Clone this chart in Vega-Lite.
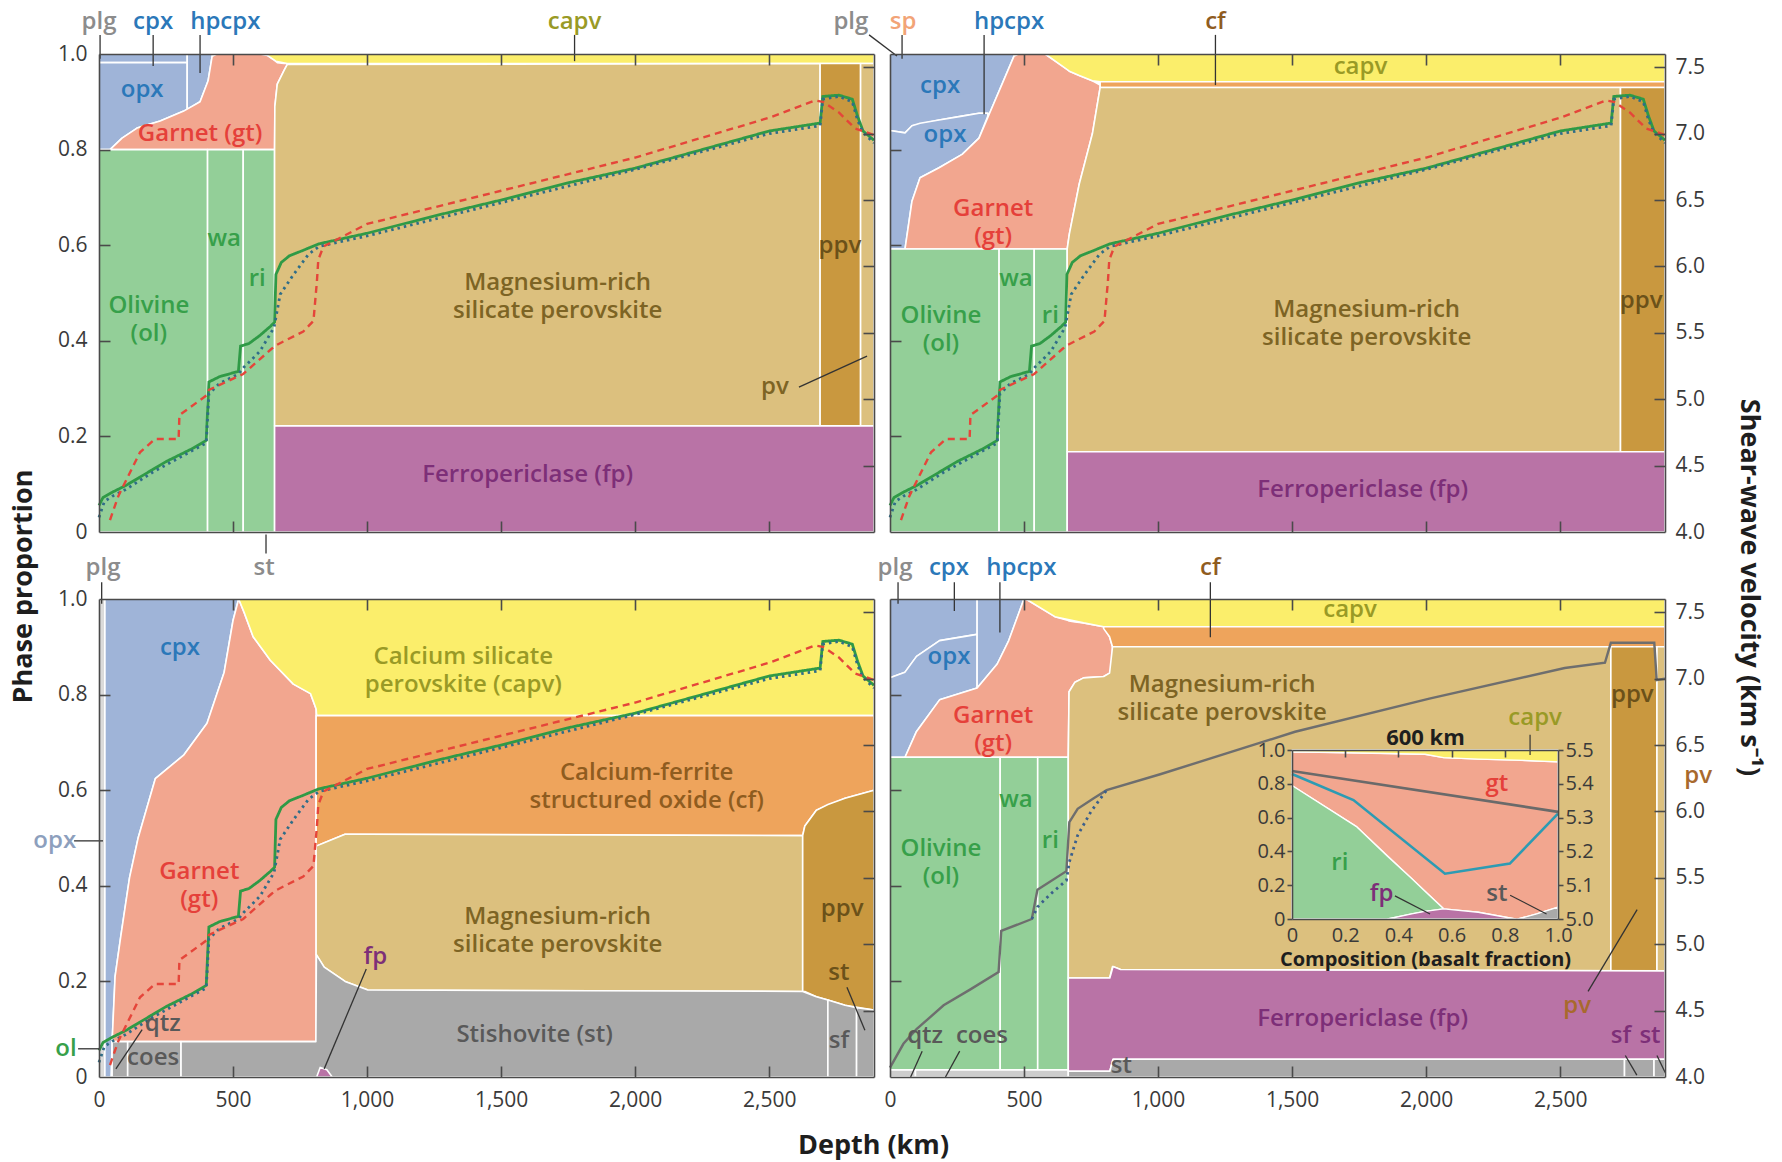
{
  "$schema": "https://vega.github.io/schema/vega-lite/v6.json",
  "background": "white",
  "padding": {"left": 9, "top": 9, "right": 20, "bottom": 5},
  "config": {
    "font": "Open Sans",
    "view": {"stroke": null},
    "axis": {
      "grid": false, "labelFlush": false,
      "domainColor": "#4a4a4a", "domainWidth": 1.6, "tickColor": "#4a4a4a", "tickWidth": 1.6,
      "labelFont": "Open Sans", "labelFontSize": 21, "labelColor": "#3a3a3a",
      "titleFont": "Open Sans", "titleFontSize": 27, "titleFontWeight": "bold", "titleColor": "#1e1e1e"
    }
  },
  "datasets": {
    "ph": [
      {"p":"TL","r":"a1","ph":"px","d":0,"lo":0.982,"hi":1},{"p":"TL","r":"a1","ph":"px","d":329,"lo":0.982,"hi":1},
      {"p":"TL","r":"a2","ph":"px","d":0,"lo":0.8,"hi":0.982},{"p":"TL","r":"a2","ph":"px","d":41,"lo":0.8,"hi":0.982},{"p":"TL","r":"a2","ph":"px","d":86,"lo":0.824,"hi":0.982},{"p":"TL","r":"a2","ph":"px","d":142,"lo":0.845,"hi":0.982},{"p":"TL","r":"a2","ph":"px","d":228,"lo":0.86,"hi":0.982},{"p":"TL","r":"a2","ph":"px","d":314,"lo":0.88,"hi":0.982},{"p":"TL","r":"a2","ph":"px","d":329,"lo":0.884,"hi":0.982},
      {"p":"TL","r":"a3","ph":"px","d":329,"lo":0.884,"hi":1},{"p":"TL","r":"a3","ph":"px","d":377,"lo":0.9,"hi":1},{"p":"TL","r":"a3","ph":"px","d":407,"lo":0.944,"hi":1},{"p":"TL","r":"a3","ph":"px","d":422,"lo":0.995,"hi":1},
      {"p":"TL","r":"a4","ph":"gt","d":41,"lo":0.8,"hi":0.8},{"p":"TL","r":"a4","ph":"gt","d":86,"lo":0.8,"hi":0.824},{"p":"TL","r":"a4","ph":"gt","d":142,"lo":0.8,"hi":0.845},{"p":"TL","r":"a4","ph":"gt","d":228,"lo":0.8,"hi":0.86},{"p":"TL","r":"a4","ph":"gt","d":314,"lo":0.8,"hi":0.88},{"p":"TL","r":"a4","ph":"gt","d":377,"lo":0.8,"hi":0.9},{"p":"TL","r":"a4","ph":"gt","d":407,"lo":0.8,"hi":0.944},{"p":"TL","r":"a4","ph":"gt","d":422,"lo":0.8,"hi":0.995},{"p":"TL","r":"a4","ph":"gt","d":440,"lo":0.8,"hi":1},{"p":"TL","r":"a4","ph":"gt","d":600,"lo":0.8,"hi":1},{"p":"TL","r":"a4","ph":"gt","d":628,"lo":0.8,"hi":0.997},{"p":"TL","r":"a4","ph":"gt","d":646,"lo":0.8,"hi":0.99},{"p":"TL","r":"a4","ph":"gt","d":655,"lo":0.8,"hi":0.987},{"p":"TL","r":"a4","ph":"gt","d":656,"lo":0.89,"hi":0.986},{"p":"TL","r":"a4","ph":"gt","d":665,"lo":0.937,"hi":0.982},{"p":"TL","r":"a4","ph":"gt","d":690,"lo":0.965,"hi":0.98},{"p":"TL","r":"a4","ph":"gt","d":702,"lo":0.978,"hi":0.98},
      {"p":"TL","r":"a5","ph":"capv","d":628,"lo":0.997,"hi":1},{"p":"TL","r":"a5","ph":"capv","d":660,"lo":0.985,"hi":1},{"p":"TL","r":"a5","ph":"capv","d":702,"lo":0.98,"hi":1},{"p":"TL","r":"a5","ph":"capv","d":2891,"lo":0.98,"hi":1},
      {"p":"TL","r":"a6","ph":"ol","d":0,"lo":0,"hi":0.8},{"p":"TL","r":"a6","ph":"ol","d":405,"lo":0,"hi":0.8},
      {"p":"TL","r":"a7","ph":"ol","d":405,"lo":0,"hi":0.8},{"p":"TL","r":"a7","ph":"ol","d":538,"lo":0,"hi":0.8},
      {"p":"TL","r":"a8","ph":"ol","d":538,"lo":0,"hi":0.8},{"p":"TL","r":"a8","ph":"ol","d":655,"lo":0,"hi":0.8},
      {"p":"TL","r":"a9","ph":"pv","d":655,"lo":0.222,"hi":0.8},{"p":"TL","r":"a9","ph":"pv","d":656,"lo":0.222,"hi":0.89},{"p":"TL","r":"a9","ph":"pv","d":665,"lo":0.222,"hi":0.937},{"p":"TL","r":"a9","ph":"pv","d":690,"lo":0.222,"hi":0.965},{"p":"TL","r":"a9","ph":"pv","d":702,"lo":0.222,"hi":0.978},{"p":"TL","r":"a9","ph":"pv","d":2690,"lo":0.222,"hi":0.98},
      {"p":"TL","r":"a10","ph":"ppv","d":2690,"lo":0.222,"hi":0.98},{"p":"TL","r":"a10","ph":"ppv","d":2841,"lo":0.222,"hi":0.98},
      {"p":"TL","r":"a11","ph":"pv","d":2841,"lo":0.222,"hi":0.98},{"p":"TL","r":"a11","ph":"pv","d":2891,"lo":0.222,"hi":0.98},
      {"p":"TL","r":"a12","ph":"fp","d":655,"lo":0,"hi":0.222},{"p":"TL","r":"a12","ph":"fp","d":2891,"lo":0,"hi":0.222},

      {"p":"TR","r":"b1","ph":"px","d":0,"lo":0.84,"hi":1},{"p":"TR","r":"b1","ph":"px","d":56,"lo":0.835,"hi":1},{"p":"TR","r":"b1","ph":"px","d":82,"lo":0.85,"hi":1},{"p":"TR","r":"b1","ph":"px","d":183,"lo":0.862,"hi":1},{"p":"TR","r":"b1","ph":"px","d":269,"lo":0.87,"hi":1},{"p":"TR","r":"b1","ph":"px","d":332,"lo":0.876,"hi":1},{"p":"TR","r":"b1","ph":"px","d":365,"lo":0.876,"hi":1},{"p":"TR","r":"b1","ph":"px","d":370,"lo":0.874,"hi":1},{"p":"TR","r":"b1","ph":"px","d":418,"lo":0.937,"hi":1},{"p":"TR","r":"b1","ph":"px","d":463,"lo":0.996,"hi":1},
      {"p":"TR","r":"b2","ph":"px","d":0,"lo":0.592,"hi":0.84},{"p":"TR","r":"b2","ph":"px","d":56,"lo":0.592,"hi":0.835},{"p":"TR","r":"b2","ph":"px","d":82,"lo":0.692,"hi":0.85},{"p":"TR","r":"b2","ph":"px","d":112,"lo":0.741,"hi":0.855},{"p":"TR","r":"b2","ph":"px","d":183,"lo":0.762,"hi":0.862},{"p":"TR","r":"b2","ph":"px","d":269,"lo":0.79,"hi":0.87},{"p":"TR","r":"b2","ph":"px","d":332,"lo":0.824,"hi":0.876},{"p":"TR","r":"b2","ph":"px","d":365,"lo":0.87,"hi":0.876},
      {"p":"TR","r":"b3","ph":"gt","d":56,"lo":0.592,"hi":0.592},{"p":"TR","r":"b3","ph":"gt","d":82,"lo":0.592,"hi":0.692},{"p":"TR","r":"b3","ph":"gt","d":112,"lo":0.592,"hi":0.741},{"p":"TR","r":"b3","ph":"gt","d":183,"lo":0.592,"hi":0.762},{"p":"TR","r":"b3","ph":"gt","d":269,"lo":0.592,"hi":0.79},{"p":"TR","r":"b3","ph":"gt","d":332,"lo":0.592,"hi":0.824},{"p":"TR","r":"b3","ph":"gt","d":370,"lo":0.592,"hi":0.874},{"p":"TR","r":"b3","ph":"gt","d":418,"lo":0.592,"hi":0.937},{"p":"TR","r":"b3","ph":"gt","d":463,"lo":0.592,"hi":0.996},{"p":"TR","r":"b3","ph":"gt","d":480,"lo":0.592,"hi":1},{"p":"TR","r":"b3","ph":"gt","d":579,"lo":0.592,"hi":1},{"p":"TR","r":"b3","ph":"gt","d":661,"lo":0.592,"hi":0.968},{"p":"TR","r":"b3","ph":"gt","d":669,"lo":0.623,"hi":0.964},{"p":"TR","r":"b3","ph":"gt","d":706,"lo":0.728,"hi":0.955},{"p":"TR","r":"b3","ph":"gt","d":755,"lo":0.833,"hi":0.944},{"p":"TR","r":"b3","ph":"gt","d":784,"lo":0.93,"hi":0.935},
      {"p":"TR","r":"b4","ph":"capv","d":579,"lo":1,"hi":1},{"p":"TR","r":"b4","ph":"capv","d":669,"lo":0.964,"hi":1},{"p":"TR","r":"b4","ph":"capv","d":706,"lo":0.955,"hi":1},{"p":"TR","r":"b4","ph":"capv","d":755,"lo":0.944,"hi":1},{"p":"TR","r":"b4","ph":"capv","d":784,"lo":0.942,"hi":1},{"p":"TR","r":"b4","ph":"capv","d":2891,"lo":0.942,"hi":1},
      {"p":"TR","r":"b5","ph":"cf","d":784,"lo":0.93,"hi":0.942},{"p":"TR","r":"b5","ph":"cf","d":2891,"lo":0.93,"hi":0.942},
      {"p":"TR","r":"b6","ph":"ol","d":0,"lo":0,"hi":0.592},{"p":"TR","r":"b6","ph":"ol","d":407,"lo":0,"hi":0.592},
      {"p":"TR","r":"b7","ph":"ol","d":407,"lo":0,"hi":0.592},{"p":"TR","r":"b7","ph":"ol","d":538,"lo":0,"hi":0.592},
      {"p":"TR","r":"b8","ph":"ol","d":538,"lo":0,"hi":0.592},{"p":"TR","r":"b8","ph":"ol","d":661,"lo":0,"hi":0.592},
      {"p":"TR","r":"b9","ph":"pv","d":661,"lo":0.168,"hi":0.592},{"p":"TR","r":"b9","ph":"pv","d":669,"lo":0.168,"hi":0.623},{"p":"TR","r":"b9","ph":"pv","d":706,"lo":0.168,"hi":0.728},{"p":"TR","r":"b9","ph":"pv","d":755,"lo":0.168,"hi":0.833},{"p":"TR","r":"b9","ph":"pv","d":784,"lo":0.168,"hi":0.93},{"p":"TR","r":"b9","ph":"pv","d":2725,"lo":0.168,"hi":0.93},
      {"p":"TR","r":"b10","ph":"ppv","d":2725,"lo":0.168,"hi":0.93},{"p":"TR","r":"b10","ph":"ppv","d":2891,"lo":0.168,"hi":0.93},
      {"p":"TR","r":"b11","ph":"fp","d":661,"lo":0,"hi":0.168},{"p":"TR","r":"b11","ph":"fp","d":2891,"lo":0,"hi":0.168},

      {"p":"BL","r":"c0","ph":"plg","d":0,"lo":0,"hi":1},{"p":"BL","r":"c0","ph":"plg","d":22,"lo":0,"hi":1},
      {"p":"BL","r":"c1","ph":"px","d":22,"lo":0,"hi":1},{"p":"BL","r":"c1","ph":"px","d":45,"lo":0,"hi":1},{"p":"BL","r":"c1","ph":"px","d":49,"lo":0.074,"hi":1},{"p":"BL","r":"c1","ph":"px","d":60,"lo":0.21,"hi":1},{"p":"BL","r":"c1","ph":"px","d":81,"lo":0.293,"hi":1},{"p":"BL","r":"c1","ph":"px","d":114,"lo":0.417,"hi":1},{"p":"BL","r":"c1","ph":"px","d":146,"lo":0.5,"hi":1},{"p":"BL","r":"c1","ph":"px","d":210,"lo":0.624,"hi":1},{"p":"BL","r":"c1","ph":"px","d":317,"lo":0.674,"hi":1},{"p":"BL","r":"c1","ph":"px","d":403,"lo":0.74,"hi":1},{"p":"BL","r":"c1","ph":"px","d":467,"lo":0.847,"hi":1},{"p":"BL","r":"c1","ph":"px","d":500,"lo":0.955,"hi":1},{"p":"BL","r":"c1","ph":"px","d":521,"lo":1,"hi":1},
      {"p":"BL","r":"c2","ph":"gt","d":49,"lo":0.074,"hi":0.074},{"p":"BL","r":"c2","ph":"gt","d":60,"lo":0.074,"hi":0.21},{"p":"BL","r":"c2","ph":"gt","d":81,"lo":0.074,"hi":0.293},{"p":"BL","r":"c2","ph":"gt","d":114,"lo":0.074,"hi":0.417},{"p":"BL","r":"c2","ph":"gt","d":146,"lo":0.074,"hi":0.5},{"p":"BL","r":"c2","ph":"gt","d":210,"lo":0.074,"hi":0.624},{"p":"BL","r":"c2","ph":"gt","d":317,"lo":0.074,"hi":0.674},{"p":"BL","r":"c2","ph":"gt","d":403,"lo":0.074,"hi":0.74},{"p":"BL","r":"c2","ph":"gt","d":467,"lo":0.074,"hi":0.847},{"p":"BL","r":"c2","ph":"gt","d":500,"lo":0.074,"hi":0.955},{"p":"BL","r":"c2","ph":"gt","d":521,"lo":0.074,"hi":1},{"p":"BL","r":"c2","ph":"gt","d":542,"lo":0.074,"hi":0.971},{"p":"BL","r":"c2","ph":"gt","d":575,"lo":0.074,"hi":0.921},{"p":"BL","r":"c2","ph":"gt","d":639,"lo":0.074,"hi":0.872},{"p":"BL","r":"c2","ph":"gt","d":725,"lo":0.074,"hi":0.822},{"p":"BL","r":"c2","ph":"gt","d":789,"lo":0.074,"hi":0.802},{"p":"BL","r":"c2","ph":"gt","d":810,"lo":0.074,"hi":0.77},
      {"p":"BL","r":"c3","ph":"capv","d":521,"lo":1,"hi":1},{"p":"BL","r":"c3","ph":"capv","d":542,"lo":0.971,"hi":1},{"p":"BL","r":"c3","ph":"capv","d":575,"lo":0.921,"hi":1},{"p":"BL","r":"c3","ph":"capv","d":639,"lo":0.872,"hi":1},{"p":"BL","r":"c3","ph":"capv","d":725,"lo":0.822,"hi":1},{"p":"BL","r":"c3","ph":"capv","d":789,"lo":0.802,"hi":1},{"p":"BL","r":"c3","ph":"capv","d":810,"lo":0.77,"hi":1},{"p":"BL","r":"c3","ph":"capv","d":812,"lo":0.756,"hi":1},{"p":"BL","r":"c3","ph":"capv","d":2891,"lo":0.756,"hi":1},
      {"p":"BL","r":"c4","ph":"cf","d":810,"lo":0.483,"hi":0.756},{"p":"BL","r":"c4","ph":"cf","d":918,"lo":0.508,"hi":0.756},{"p":"BL","r":"c4","ph":"cf","d":2625,"lo":0.505,"hi":0.756},{"p":"BL","r":"c4","ph":"cf","d":2633,"lo":0.525,"hi":0.756},{"p":"BL","r":"c4","ph":"cf","d":2676,"lo":0.558,"hi":0.756},{"p":"BL","r":"c4","ph":"cf","d":2783,"lo":0.583,"hi":0.756},{"p":"BL","r":"c4","ph":"cf","d":2891,"lo":0.6,"hi":0.756},
      {"p":"BL","r":"c5","ph":"pv","d":810,"lo":0.256,"hi":0.483},{"p":"BL","r":"c5","ph":"pv","d":840,"lo":0.23,"hi":0.49},{"p":"BL","r":"c5","ph":"pv","d":918,"lo":0.2,"hi":0.508},{"p":"BL","r":"c5","ph":"pv","d":1003,"lo":0.182,"hi":0.508},{"p":"BL","r":"c5","ph":"pv","d":2625,"lo":0.179,"hi":0.505},
      {"p":"BL","r":"c6","ph":"ppv","d":2625,"lo":0.179,"hi":0.505},{"p":"BL","r":"c6","ph":"ppv","d":2633,"lo":0.179,"hi":0.525},{"p":"BL","r":"c6","ph":"ppv","d":2676,"lo":0.168,"hi":0.558},{"p":"BL","r":"c6","ph":"ppv","d":2719,"lo":0.161,"hi":0.57},{"p":"BL","r":"c6","ph":"ppv","d":2783,"lo":0.15,"hi":0.583},{"p":"BL","r":"c6","ph":"ppv","d":2891,"lo":0.14,"hi":0.6},
      {"p":"BL","r":"c7","ph":"st","d":49,"lo":0,"hi":0.074},{"p":"BL","r":"c7","ph":"st","d":107,"lo":0,"hi":0.074},
      {"p":"BL","r":"c8","ph":"st","d":107,"lo":0,"hi":0.074},{"p":"BL","r":"c8","ph":"st","d":306,"lo":0,"hi":0.074},
      {"p":"BL","r":"c9","ph":"st","d":306,"lo":0,"hi":0.074},{"p":"BL","r":"c9","ph":"st","d":809,"lo":0,"hi":0.074},{"p":"BL","r":"c9","ph":"st","d":811,"lo":0,"hi":0.256},{"p":"BL","r":"c9","ph":"st","d":840,"lo":0,"hi":0.23},{"p":"BL","r":"c9","ph":"st","d":918,"lo":0,"hi":0.2},{"p":"BL","r":"c9","ph":"st","d":1003,"lo":0,"hi":0.182},{"p":"BL","r":"c9","ph":"st","d":2625,"lo":0,"hi":0.179},{"p":"BL","r":"c9","ph":"st","d":2676,"lo":0,"hi":0.168},{"p":"BL","r":"c9","ph":"st","d":2719,"lo":0,"hi":0.161},
      {"p":"BL","r":"c10","ph":"st","d":2719,"lo":0,"hi":0.161},{"p":"BL","r":"c10","ph":"st","d":2783,"lo":0,"hi":0.15},{"p":"BL","r":"c10","ph":"st","d":2826,"lo":0,"hi":0.145},
      {"p":"BL","r":"c11","ph":"st","d":2826,"lo":0,"hi":0.145},{"p":"BL","r":"c11","ph":"st","d":2891,"lo":0,"hi":0.14},
      {"p":"BL","r":"c12","ph":"fp","d":812,"lo":0,"hi":0},{"p":"BL","r":"c12","ph":"fp","d":825,"lo":0,"hi":0.02},{"p":"BL","r":"c12","ph":"fp","d":850,"lo":0,"hi":0.015},{"p":"BL","r":"c12","ph":"fp","d":870,"lo":0,"hi":0},

      {"p":"BR","r":"d1","ph":"px","d":0,"lo":0.835,"hi":1},{"p":"BR","r":"d1","ph":"px","d":56,"lo":0.847,"hi":1},{"p":"BR","r":"d1","ph":"px","d":99,"lo":0.88,"hi":1},{"p":"BR","r":"d1","ph":"px","d":185,"lo":0.913,"hi":1},{"p":"BR","r":"d1","ph":"px","d":325,"lo":0.926,"hi":1},
      {"p":"BR","r":"d2","ph":"px","d":0,"lo":0.669,"hi":0.835},{"p":"BR","r":"d2","ph":"px","d":56,"lo":0.669,"hi":0.847},{"p":"BR","r":"d2","ph":"px","d":99,"lo":0.723,"hi":0.88},{"p":"BR","r":"d2","ph":"px","d":185,"lo":0.789,"hi":0.913},{"p":"BR","r":"d2","ph":"px","d":325,"lo":0.814,"hi":0.926},
      {"p":"BR","r":"d3","ph":"px","d":325,"lo":0.814,"hi":1},{"p":"BR","r":"d3","ph":"px","d":400,"lo":0.864,"hi":1},{"p":"BR","r":"d3","ph":"px","d":443,"lo":0.913,"hi":1},{"p":"BR","r":"d3","ph":"px","d":497,"lo":0.996,"hi":1},
      {"p":"BR","r":"d4","ph":"gt","d":56,"lo":0.669,"hi":0.669},{"p":"BR","r":"d4","ph":"gt","d":99,"lo":0.669,"hi":0.723},{"p":"BR","r":"d4","ph":"gt","d":185,"lo":0.669,"hi":0.789},{"p":"BR","r":"d4","ph":"gt","d":325,"lo":0.669,"hi":0.814},{"p":"BR","r":"d4","ph":"gt","d":400,"lo":0.669,"hi":0.864},{"p":"BR","r":"d4","ph":"gt","d":443,"lo":0.669,"hi":0.913},{"p":"BR","r":"d4","ph":"gt","d":497,"lo":0.669,"hi":0.996},{"p":"BR","r":"d4","ph":"gt","d":507,"lo":0.669,"hi":1},{"p":"BR","r":"d4","ph":"gt","d":615,"lo":0.669,"hi":0.963},{"p":"BR","r":"d4","ph":"gt","d":665,"lo":0.669,"hi":0.955},{"p":"BR","r":"d4","ph":"gt","d":668,"lo":0.806,"hi":0.954},{"p":"BR","r":"d4","ph":"gt","d":690,"lo":0.826,"hi":0.952},{"p":"BR","r":"d4","ph":"gt","d":722,"lo":0.835,"hi":0.95},{"p":"BR","r":"d4","ph":"gt","d":797,"lo":0.838,"hi":0.942},{"p":"BR","r":"d4","ph":"gt","d":819,"lo":0.845,"hi":0.921},{"p":"BR","r":"d4","ph":"gt","d":830,"lo":0.85,"hi":0.9},
      {"p":"BR","r":"d5","ph":"capv","d":507,"lo":1,"hi":1},{"p":"BR","r":"d5","ph":"capv","d":615,"lo":0.963,"hi":1},{"p":"BR","r":"d5","ph":"capv","d":722,"lo":0.95,"hi":1},{"p":"BR","r":"d5","ph":"capv","d":797,"lo":0.942,"hi":1},{"p":"BR","r":"d5","ph":"capv","d":2891,"lo":0.942,"hi":1},
      {"p":"BR","r":"d6","ph":"cf","d":797,"lo":0.938,"hi":0.942},{"p":"BR","r":"d6","ph":"cf","d":819,"lo":0.921,"hi":0.942},{"p":"BR","r":"d6","ph":"cf","d":830,"lo":0.9,"hi":0.942},{"p":"BR","r":"d6","ph":"cf","d":2891,"lo":0.9,"hi":0.942},
      {"p":"BR","r":"d7","ph":"ol","d":0,"lo":0.015,"hi":0.669},{"p":"BR","r":"d7","ph":"ol","d":411,"lo":0.015,"hi":0.669},
      {"p":"BR","r":"d8","ph":"ol","d":411,"lo":0.015,"hi":0.669},{"p":"BR","r":"d8","ph":"ol","d":551,"lo":0.015,"hi":0.669},
      {"p":"BR","r":"d9","ph":"ol","d":551,"lo":0.015,"hi":0.669},{"p":"BR","r":"d9","ph":"ol","d":665,"lo":0.015,"hi":0.669},
      {"p":"BR","r":"d10","ph":"qc","d":0,"lo":0,"hi":0.015},{"p":"BR","r":"d10","ph":"qc","d":95,"lo":0,"hi":0.015},
      {"p":"BR","r":"d11","ph":"qc","d":95,"lo":0,"hi":0.015},{"p":"BR","r":"d11","ph":"qc","d":665,"lo":0,"hi":0.015},
      {"p":"BR","r":"d12","ph":"pv","d":665,"lo":0.207,"hi":0.669},{"p":"BR","r":"d12","ph":"pv","d":668,"lo":0.207,"hi":0.806},{"p":"BR","r":"d12","ph":"pv","d":690,"lo":0.207,"hi":0.826},{"p":"BR","r":"d12","ph":"pv","d":722,"lo":0.207,"hi":0.835},{"p":"BR","r":"d12","ph":"pv","d":797,"lo":0.207,"hi":0.838},{"p":"BR","r":"d12","ph":"pv","d":819,"lo":0.207,"hi":0.845},{"p":"BR","r":"d12","ph":"pv","d":830,"lo":0.231,"hi":0.9},{"p":"BR","r":"d12","ph":"pv","d":860,"lo":0.225,"hi":0.9},{"p":"BR","r":"d12","ph":"pv","d":2689,"lo":0.222,"hi":0.9},
      {"p":"BR","r":"d13","ph":"ppv","d":2689,"lo":0.222,"hi":0.9},{"p":"BR","r":"d13","ph":"ppv","d":2861,"lo":0.222,"hi":0.9},
      {"p":"BR","r":"d14","ph":"pv","d":2861,"lo":0.222,"hi":0.9},{"p":"BR","r":"d14","ph":"pv","d":2891,"lo":0.222,"hi":0.9},
      {"p":"BR","r":"d15","ph":"fp","d":665,"lo":0.012,"hi":0.207},{"p":"BR","r":"d15","ph":"fp","d":820,"lo":0.012,"hi":0.207},{"p":"BR","r":"d15","ph":"fp","d":832,"lo":0.037,"hi":0.231},{"p":"BR","r":"d15","ph":"fp","d":860,"lo":0.037,"hi":0.225},{"p":"BR","r":"d15","ph":"fp","d":2891,"lo":0.037,"hi":0.222},
      {"p":"BR","r":"d16","ph":"st","d":665,"lo":0,"hi":0.012},{"p":"BR","r":"d16","ph":"st","d":820,"lo":0,"hi":0.012},{"p":"BR","r":"d16","ph":"st","d":832,"lo":0,"hi":0.037},{"p":"BR","r":"d16","ph":"st","d":2740,"lo":0,"hi":0.037},
      {"p":"BR","r":"d17","ph":"st","d":2740,"lo":0,"hi":0.037},{"p":"BR","r":"d17","ph":"st","d":2850,"lo":0,"hi":0.037},
      {"p":"BR","r":"d18","ph":"st","d":2850,"lo":0,"hi":0.037},{"p":"BR","r":"d18","ph":"st","d":2891,"lo":0,"hi":0.037}
    ],
    "vs": [
      {"s":"a","d":0,"v":4.2},{"s":"a","d":15,"v":4.26},{"s":"a","d":50,"v":4.3},{"s":"a","d":100,"v":4.35},{"s":"a","d":150,"v":4.41},{"s":"a","d":200,"v":4.47},{"s":"a","d":250,"v":4.53},{"s":"a","d":300,"v":4.58},{"s":"a","d":350,"v":4.63},{"s":"a","d":400,"v":4.69},{"s":"a","d":410,"v":5.13},{"s":"a","d":450,"v":5.17},{"s":"a","d":520,"v":5.21},{"s":"a","d":528,"v":5.4},{"s":"a","d":560,"v":5.42},{"s":"a","d":600,"v":5.48},{"s":"a","d":640,"v":5.55},{"s":"a","d":655,"v":5.58},{"s":"a","d":660,"v":5.94},{"s":"a","d":680,"v":6.03},{"s":"a","d":710,"v":6.08},{"s":"a","d":760,"v":6.12},{"s":"a","d":820,"v":6.17},{"s":"a","d":1000,"v":6.25},{"s":"a","d":1250,"v":6.38},{"s":"a","d":1500,"v":6.5},{"s":"a","d":1750,"v":6.63},{"s":"a","d":2000,"v":6.74},{"s":"a","d":2250,"v":6.88},{"s":"a","d":2500,"v":7.02},{"s":"a","d":2690,"v":7.08},{"s":"a","d":2700,"v":7.28},{"s":"a","d":2760,"v":7.29},{"s":"a","d":2810,"v":7.26},{"s":"a","d":2830,"v":7.13},{"s":"a","d":2850,"v":7.02},{"s":"a","d":2891,"v":6.95},
      {"s":"b","d":0,"v":4.11},{"s":"b","d":20,"v":4.23},{"s":"b","d":50,"v":4.27},{"s":"b","d":100,"v":4.32},{"s":"b","d":200,"v":4.45},{"s":"b","d":300,"v":4.56},{"s":"b","d":400,"v":4.67},{"s":"b","d":410,"v":5.04},{"s":"b","d":450,"v":5.12},{"s":"b","d":520,"v":5.19},{"s":"b","d":540,"v":5.24},{"s":"b","d":600,"v":5.36},{"s":"b","d":653,"v":5.54},{"s":"b","d":676,"v":5.79},{"s":"b","d":726,"v":5.94},{"s":"b","d":781,"v":6.09},{"s":"b","d":820,"v":6.15},{"s":"b","d":1000,"v":6.23},{"s":"b","d":1500,"v":6.48},{"s":"b","d":2000,"v":6.73},{"s":"b","d":2500,"v":7.0},{"s":"b","d":2690,"v":7.06},{"s":"b","d":2700,"v":7.26},{"s":"b","d":2760,"v":7.28},{"s":"b","d":2810,"v":7.24},{"s":"b","d":2830,"v":7.1},{"s":"b","d":2850,"v":7.01},{"s":"b","d":2891,"v":6.93},
      {"s":"c","d":41,"v":4.09},{"s":"c","d":72,"v":4.27},{"s":"c","d":153,"v":4.6},{"s":"c","d":209,"v":4.7},{"s":"c","d":297,"v":4.7},{"s":"c","d":300,"v":4.88},{"s":"c","d":402,"v":5.03},{"s":"c","d":410,"v":5.07},{"s":"c","d":538,"v":5.19},{"s":"c","d":644,"v":5.38},{"s":"c","d":664,"v":5.41},{"s":"c","d":762,"v":5.51},{"s":"c","d":800,"v":5.59},{"s":"c","d":813,"v":5.89},{"s":"c","d":818,"v":6.05},{"s":"c","d":837,"v":6.15},{"s":"c","d":1000,"v":6.32},{"s":"c","d":1500,"v":6.57},{"s":"c","d":2000,"v":6.82},{"s":"c","d":2500,"v":7.12},{"s":"c","d":2670,"v":7.25},{"s":"c","d":2700,"v":7.24},{"s":"c","d":2760,"v":7.16},{"s":"c","d":2820,"v":7.04},{"s":"c","d":2891,"v":6.99}
    ],
    "vsm": [
      {"s":"g","d":0,"v":4.07},{"s":"g","d":50,"v":4.25},{"s":"g","d":99,"v":4.36},{"s":"g","d":200,"v":4.54},{"s":"g","d":300,"v":4.66},{"s":"g","d":405,"v":4.79},{"s":"g","d":415,"v":5.1},{"s":"g","d":529,"v":5.19},{"s":"g","d":550,"v":5.41},{"s":"g","d":658,"v":5.55},{"s":"g","d":669,"v":5.92},{"s":"g","d":700,"v":6.02},{"s":"g","d":760,"v":6.1},{"s":"g","d":808,"v":6.16},{"s":"g","d":1008,"v":6.28},{"s":"g","d":1511,"v":6.6},{"s":"g","d":2012,"v":6.85},{"s":"g","d":2517,"v":7.08},{"s":"g","d":2667,"v":7.12},{"s":"g","d":2689,"v":7.27},{"s":"g","d":2851,"v":7.27},{"s":"g","d":2860,"v":6.99},{"s":"g","d":2891,"v":7.0},
      {"s":"h","d":529,"v":5.19},{"s":"h","d":550,"v":5.28},{"s":"h","d":600,"v":5.38},{"s":"h","d":658,"v":5.48},{"s":"h","d":669,"v":5.62},{"s":"h","d":700,"v":5.82},{"s":"h","d":750,"v":6.0},{"s":"h","d":808,"v":6.16}
    ],
    "lab": [
      {"p":"TL","t":"plg","d":0,"y":1.067,"k":"gy"},{"p":"TL","t":"cpx","d":202,"y":1.067,"k":"bl"},{"p":"TL","t":"hpcpx","d":471,"y":1.067,"k":"bl"},{"p":"TL","t":"capv","d":1774,"y":1.067,"k":"ol"},
      {"p":"TL","t":"opx","d":161,"y":0.925,"k":"bl"},{"p":"TL","t":"Garnet (gt)","d":377,"y":0.833,"k":"rd"},{"p":"TL","t":"wa","d":467,"y":0.613,"k":"gr"},{"p":"TL","t":"Olivine\n(ol)","d":186,"y":0.473,"k":"gr"},{"p":"TL","t":"ri","d":590,"y":0.529,"k":"gr"},
      {"p":"TL","t":"Magnesium-rich\nsilicate perovskite","d":1711,"y":0.521,"k":"br"},{"p":"TL","t":"ppv","d":2764,"y":0.598,"k":"pb"},{"p":"TL","t":"pv","d":2521,"y":0.303,"k":"br"},{"p":"TL","t":"Ferropericlase (fp)","d":1599,"y":0.119,"k":"pu"},{"p":"TL","t":"st","d":616,"y":-0.075,"k":"gy"},
      {"p":"TR","t":"plg","d":-146,"y":1.067,"k":"gy"},{"p":"TR","t":"sp","d":49,"y":1.067,"k":"sp"},{"p":"TR","t":"hpcpx","d":444,"y":1.067,"k":"bl"},{"p":"TR","t":"cf","d":1214,"y":1.067,"k":"cf"},{"p":"TR","t":"capv","d":1755,"y":0.973,"k":"ol"},
      {"p":"TR","t":"cpx","d":187,"y":0.933,"k":"bl"},{"p":"TR","t":"opx","d":205,"y":0.83,"k":"bl"},{"p":"TR","t":"Garnet\n(gt)","d":385,"y":0.676,"k":"rd"},{"p":"TR","t":"wa","d":470,"y":0.529,"k":"gr"},{"p":"TR","t":"Olivine\n(ol)","d":190,"y":0.452,"k":"gr"},{"p":"TR","t":"ri","d":598,"y":0.452,"k":"gr"},
      {"p":"TR","t":"Magnesium-rich\nsilicate perovskite","d":1778,"y":0.464,"k":"br"},{"p":"TR","t":"ppv","d":2802,"y":0.483,"k":"pb"},{"p":"TR","t":"Ferropericlase (fp)","d":1763,"y":0.088,"k":"pu"},
      {"p":"BL","t":"plg","d":15,"y":1.064,"k":"gy"},{"p":"BL","t":"cpx","d":302,"y":0.897,"k":"bl"},{"p":"BL","t":"Calcium silicate\nperovskite (capv)","d":1359,"y":0.879,"k":"ol"},{"p":"BL","t":"Calcium-ferrite\nstructured oxide (cf)","d":2043,"y":0.636,"k":"cf"},
      {"p":"BL","t":"Garnet\n(gt)","d":374,"y":0.429,"k":"rd"},{"p":"BL","t":"Magnesium-rich\nsilicate perovskite","d":1711,"y":0.335,"k":"br"},{"p":"BL","t":"ppv","d":2772,"y":0.351,"k":"pb"},{"p":"BL","t":"fp","d":1031,"y":0.251,"k":"pu"},
      {"p":"BL","t":"st","d":2760,"y":0.218,"k":"pb"},{"p":"BL","t":"Stishovite (st)","d":1625,"y":0.088,"k":"st"},{"p":"BL","t":"sf","d":2760,"y":0.075,"k":"st"},{"p":"BL","t":"qtz","d":238,"y":0.111,"k":"st"},{"p":"BL","t":"coes","d":202,"y":0.04,"k":"st"},
      {"p":"BL","t":"ol","d":-123,"y":0.059,"k":"gr"},{"p":"BL","t":"opx","d":-165,"y":0.494,"k":"bl2"},
      {"p":"BR","t":"plg","d":19,"y":1.064,"k":"gy"},{"p":"BR","t":"cpx","d":220,"y":1.064,"k":"bl"},{"p":"BR","t":"hpcpx","d":490,"y":1.064,"k":"bl"},{"p":"BR","t":"cf","d":1195,"y":1.064,"k":"cf"},{"p":"BR","t":"capv","d":1716,"y":0.978,"k":"ol"},
      {"p":"BR","t":"opx","d":220,"y":0.879,"k":"bl"},{"p":"BR","t":"Garnet\n(gt)","d":385,"y":0.755,"k":"rd"},{"p":"BR","t":"Magnesium-rich\nsilicate perovskite","d":1239,"y":0.821,"k":"br"},{"p":"BR","t":"wa","d":470,"y":0.579,"k":"gr"},{"p":"BR","t":"Olivine\n(ol)","d":190,"y":0.477,"k":"gr"},{"p":"BR","t":"ri","d":598,"y":0.494,"k":"gr"},
      {"p":"BR","t":"ppv","d":2769,"y":0.8,"k":"pb"},{"p":"BR","t":"pv","d":3015,"y":0.63,"k":"pvo"},{"p":"BR","t":"pv","d":2563,"y":0.149,"k":"pvo"},{"p":"BR","t":"Ferropericlase (fp)","d":1763,"y":0.121,"k":"pu"},
      {"p":"BR","t":"st","d":863,"y":0.023,"k":"st"},{"p":"BR","t":"qtz","d":131,"y":0.086,"k":"st"},{"p":"BR","t":"coes","d":343,"y":0.086,"k":"st"},{"p":"BR","t":"sf","d":2727,"y":0.086,"k":"pu"},{"p":"BR","t":"st","d":2835,"y":0.086,"k":"pu"}
    ],
    "lead": [
      {"p":"TL","d1":4,"y1":1.04,"d2":4,"y2":0.99},{"p":"TL","d1":202,"y1":1.04,"d2":202,"y2":0.975},{"p":"TL","d1":377,"y1":1.04,"d2":377,"y2":0.96},{"p":"TL","d1":1774,"y1":1.04,"d2":1774,"y2":0.985},{"p":"TL","d1":2611,"y1":0.303,"d2":2865,"y2":0.368},{"p":"TL","d1":623,"y1":-0.005,"d2":623,"y2":-0.045},
      {"p":"TR","d1":-78,"y1":1.04,"d2":26,"y2":0.996},{"p":"TR","d1":45,"y1":1.04,"d2":45,"y2":0.99},{"p":"TR","d1":351,"y1":1.04,"d2":351,"y2":0.874},{"p":"TR","d1":1214,"y1":1.04,"d2":1214,"y2":0.935},
      {"p":"BL","d1":10,"y1":1.035,"d2":10,"y2":0.99},{"p":"BL","d1":997,"y1":0.226,"d2":840,"y2":0.017},{"p":"BL","d1":2790,"y1":0.188,"d2":2857,"y2":0.098},{"p":"BL","d1":161,"y1":0.099,"d2":63,"y2":0.017},{"p":"BL","d1":-78,"y1":0.059,"d2":0,"y2":0.059},{"p":"BL","d1":-93,"y1":0.494,"d2":15,"y2":0.494},
      {"p":"BR","d1":30,"y1":1.035,"d2":30,"y2":0.99},{"p":"BR","d1":240,"y1":1.035,"d2":240,"y2":0.975},{"p":"BR","d1":410,"y1":1.035,"d2":410,"y2":0.93},{"p":"BR","d1":1195,"y1":1.035,"d2":1195,"y2":0.92},{"p":"BR","d1":2604,"y1":0.179,"d2":2787,"y2":0.35},
      {"p":"BR","d1":120,"y1":0.054,"d2":77,"y2":0},{"p":"BR","d1":260,"y1":0.054,"d2":207,"y2":0},{"p":"BR","d1":2743,"y1":0.045,"d2":2786,"y2":0.004},{"p":"BR","d1":2861,"y1":0.045,"d2":2893,"y2":0.008}
    ],
    "ins": [
      {"r":"e1","ph":"gt","c":0,"lo":0.79,"hi":0.99},{"r":"e1","ph":"gt","c":0.244,"lo":0.545,"hi":0.983},{"r":"e1","ph":"gt","c":0.5,"lo":0.164,"hi":0.975},{"r":"e1","ph":"gt","c":0.57,"lo":0.06,"hi":0.955},{"r":"e1","ph":"gt","c":0.7,"lo":0.04,"hi":0.946},{"r":"e1","ph":"gt","c":0.84,"lo":0,"hi":0.94},{"r":"e1","ph":"gt","c":0.85,"lo":0,"hi":0.94},{"r":"e1","ph":"gt","c":0.92,"lo":0.03,"hi":0.935},{"r":"e1","ph":"gt","c":1,"lo":0.07,"hi":0.93},
      {"r":"e2","ph":"ol","c":0,"lo":0,"hi":0.79},{"r":"e2","ph":"ol","c":0.244,"lo":0,"hi":0.545},{"r":"e2","ph":"ol","c":0.36,"lo":0,"hi":0.37},{"r":"e2","ph":"ol","c":0.45,"lo":0.03,"hi":0.24},{"r":"e2","ph":"ol","c":0.5,"lo":0.045,"hi":0.164},{"r":"e2","ph":"ol","c":0.57,"lo":0.06,"hi":0.06},
      {"r":"e3","ph":"fp","c":0.36,"lo":0,"hi":0},{"r":"e3","ph":"fp","c":0.45,"lo":0,"hi":0.03},{"r":"e3","ph":"fp","c":0.5,"lo":0,"hi":0.045},{"r":"e3","ph":"fp","c":0.57,"lo":0,"hi":0.06},{"r":"e3","ph":"fp","c":0.7,"lo":0,"hi":0.04},{"r":"e3","ph":"fp","c":0.84,"lo":0,"hi":0},
      {"r":"e4","ph":"st","c":0.85,"lo":0,"hi":0},{"r":"e4","ph":"st","c":0.92,"lo":0,"hi":0.03},{"r":"e4","ph":"st","c":1,"lo":0,"hi":0.07},
      {"r":"e5","ph":"capv","c":0,"lo":0.99,"hi":1},{"r":"e5","ph":"capv","c":0.5,"lo":0.975,"hi":1},{"r":"e5","ph":"capv","c":0.57,"lo":0.955,"hi":1},{"r":"e5","ph":"capv","c":0.7,"lo":0.946,"hi":1},{"r":"e5","ph":"capv","c":0.84,"lo":0.94,"hi":1},{"r":"e5","ph":"capv","c":1,"lo":0.93,"hi":1}
    ],
    "insv": [
      {"s":"g","c":0,"v":5.438},{"s":"g","c":1,"v":5.317},
      {"s":"t","c":0,"v":5.429},{"s":"t","c":0.231,"v":5.352},{"s":"t","c":0.575,"v":5.134},{"s":"t","c":0.819,"v":5.164},{"s":"t","c":1,"v":5.312}
    ],
    "insl": [
      {"t":"ri","c":0.18,"y":0.33,"k":"gr"},{"t":"gt","c":0.77,"y":0.8,"k":"rd"},{"t":"fp","c":0.337,"y":0.15,"k":"pu"},{"t":"st","c":0.77,"y":0.15,"k":"st"},{"t":"capv","c":0.914,"y":1.19,"k":"ol"}
    ],
    "insld": [
      {"c1":0.387,"y1":0.137,"c2":0.519,"y2":0.03},{"c1":0.82,"y1":0.14,"c2":0.957,"y2":0.03},{"c1":0.895,"y1":1.09,"c2":0.895,"y2":0.97}
    ]
  },
  "columns": 2,
  "spacing": {"row": 67, "column": 16},
  "bounds": "flush",
  "concat": [
    {
      "width": 775, "height": 478,
      "resolve": {"scale": {"x": "independent", "y": "independent", "color": "independent", "strokeDash": "independent"}, "axis": {"x": "independent", "y": "independent"}},
      "layer": [
        {
          "data": {"name": "ph"}, "transform": [{"filter": "datum.p === 'TL'"}],
          "mark": {"type": "area", "stroke": "white", "strokeWidth": 1.6, "strokeJoin": "round"},
          "encoding": {
            "x": {"field": "d", "type": "quantitative", "scale": {"domain": [0, 2891], "nice": false, "zero": false}, "axis": {"zindex": 1, "orient": "top", "offset": -478, "values": [500, 1000, 1500, 2000, 2500], "labels": false, "tickSize": 11, "title": null}},
            "y": {"field": "hi", "type": "quantitative", "stack": null, "scale": {"domain": [0, 1], "nice": false, "zero": false}, "axis": {"zindex": 1, "orient": "left", "values": [0, 0.2, 0.4, 0.6, 0.8, 1], "labelExpr": "datum.value === 0 ? '0' : format(datum.value, '.1f')", "ticks": false, "tickSize": 0, "domain": false, "labelPadding": 12, "title": "Phase proportion", "titleX": -68, "titleY": 532, "titleAngle": -90, "titleAlign": "center", "titleBaseline": "alphabetic"}},
            "y2": {"field": "lo"},
            "color": {"field": "ph", "type": "nominal", "legend": null, "scale": {"domain": ["px","gt","ol","pv","ppv","fp","capv","cf","st","plg","qc"], "range": ["#9fb4d8","#f2a68f","#93cf98","#dcc07e","#c9983f","#b973a6","#fbee6b","#eea45c","#a9a9a9","#dadada","#cdcdcd"]}},
            "detail": {"field": "r"}
          }
        },
        {
          "data": {"name": "vs"}, "transform": [{"filter": "datum.s !== 'c'"}],
          "mark": {"type": "line", "strokeWidth": 2.8, "strokeCap": "butt"},
          "encoding": {
            "x": {"field": "d", "type": "quantitative", "scale": {"domain": [0, 2891], "nice": false, "zero": false}, "axis": null},
            "y": {"field": "v", "type": "quantitative", "scale": {"domain": [4, 7.6], "nice": false, "zero": false}, "axis": {"zindex": 1, "orient": "left", "offset": -775, "values": [4.5, 5, 5.5, 6, 6.5, 7, 7.5], "labels": false, "tickSize": 11, "title": null}},
            "color": {"field": "s", "type": "nominal", "legend": null, "scale": {"domain": ["a", "b"], "range": ["#2f9a46", "#2f6d88"]}},
            "strokeDash": {"field": "s", "type": "nominal", "legend": null, "scale": {"domain": ["a", "b"], "range": [[1, 0], [2.5, 4]]}}
          }
        },
        {
          "data": {"name": "vs"}, "transform": [{"filter": "datum.s === 'c'"}],
          "mark": {"type": "line", "strokeWidth": 2.4, "color": "#e5453a", "strokeDash": [7, 5]},
          "encoding": {
            "x": {"field": "d", "type": "quantitative", "scale": {"domain": [0, 2891], "nice": false, "zero": false}, "axis": null},
            "y": {"field": "v", "type": "quantitative", "scale": {"domain": [4, 7.6], "nice": false, "zero": false}, "axis": null}
          }
        },
        {
          "data": {"name": "lead"}, "transform": [{"filter": "datum.p === 'TL'"}],
          "mark": {"type": "rule", "color": "#333333", "strokeWidth": 1.3},
          "encoding": {
            "x": {"field": "d1", "type": "quantitative", "scale": {"domain": [0, 2891], "nice": false, "zero": false}, "axis": null},
            "x2": {"field": "d2"},
            "y": {"field": "y1", "type": "quantitative", "scale": {"domain": [0, 1], "nice": false, "zero": false}, "axis": null},
            "y2": {"field": "y2"}
          }
        },
        {
          "data": {"name": "lab"}, "transform": [{"filter": "datum.p === 'TL'"}],
          "mark": {"type": "text", "font": "Open Sans", "fontSize": 24, "fontWeight": 600, "lineBreak": "\n", "lineHeight": 28, "align": "center", "baseline": "middle"},
          "encoding": {
            "x": {"field": "d", "type": "quantitative", "scale": {"domain": [0, 2891], "nice": false, "zero": false}, "axis": {"zindex": 1, "orient": "bottom", "offset": -478, "values": [500, 1000, 1500, 2000, 2500], "labels": false, "tickSize": 11, "title": null}},
            "y": {"field": "y", "type": "quantitative", "scale": {"domain": [0, 1], "nice": false, "zero": false}, "axis": {"zindex": 1, "orient": "right", "offset": -775, "values": [0.2, 0.4, 0.6, 0.8], "labels": false, "tickSize": 11, "title": null}},
            "text": {"field": "t"},
            "color": {"field": "k", "type": "nominal", "legend": null, "scale": {"domain": ["bl","bl2","rd","gr","br","pb","pu","ol","cf","gy","st","sp","pvo"], "range": ["#2b78b9","#8d9fbd","#e5403a","#37a04a","#7d6424","#6b5119","#7d2f78","#999a26","#8f5c1f","#8c8c8c","#595959","#f2a477","#a8692d"]}}
          }
        }
      ]
    },
    {
      "width": 775, "height": 478,
      "resolve": {"scale": {"x": "independent", "y": "independent", "color": "independent", "strokeDash": "independent"}, "axis": {"x": "independent", "y": "independent"}},
      "layer": [
        {
          "data": {"name": "ph"}, "transform": [{"filter": "datum.p === 'TR'"}],
          "mark": {"type": "area", "stroke": "white", "strokeWidth": 1.6, "strokeJoin": "round"},
          "encoding": {
            "x": {"field": "d", "type": "quantitative", "scale": {"domain": [0, 2891], "nice": false, "zero": false}, "axis": {"zindex": 1, "orient": "top", "offset": -478, "values": [500, 1000, 1500, 2000, 2500], "labels": false, "tickSize": 11, "title": null}},
            "y": {"field": "hi", "type": "quantitative", "stack": null, "scale": {"domain": [0, 1], "nice": false, "zero": false}, "axis": {"zindex": 1, "orient": "right", "offset": -775, "values": [0.2, 0.4, 0.6, 0.8], "labels": false, "tickSize": 11, "title": null}},
            "y2": {"field": "lo"},
            "color": {"field": "ph", "type": "nominal", "legend": null, "scale": {"domain": ["px","gt","ol","pv","ppv","fp","capv","cf","st","plg","qc"], "range": ["#9fb4d8","#f2a68f","#93cf98","#dcc07e","#c9983f","#b973a6","#fbee6b","#eea45c","#a9a9a9","#dadada","#cdcdcd"]}},
            "detail": {"field": "r"}
          }
        },
        {
          "data": {"name": "vs"}, "transform": [{"filter": "datum.s !== 'c'"}],
          "mark": {"type": "line", "strokeWidth": 2.8, "strokeCap": "butt"},
          "encoding": {
            "x": {"field": "d", "type": "quantitative", "scale": {"domain": [0, 2891], "nice": false, "zero": false}, "axis": null},
            "y": {"field": "v", "type": "quantitative", "scale": {"domain": [4, 7.6], "nice": false, "zero": false}, "axis": {"zindex": 1, "orient": "right", "values": [4, 4.5, 5, 5.5, 6, 6.5, 7, 7.5], "format": ".1f", "ticks": false, "tickSize": 0, "domain": false, "labelPadding": 10, "title": "Shear-wave velocity (km s⁻¹)", "titleX": 75, "titleY": 533, "titleAngle": 90, "titleAlign": "center", "titleBaseline": "alphabetic"}},
            "color": {"field": "s", "type": "nominal", "legend": null, "scale": {"domain": ["a", "b"], "range": ["#2f9a46", "#2f6d88"]}},
            "strokeDash": {"field": "s", "type": "nominal", "legend": null, "scale": {"domain": ["a", "b"], "range": [[1, 0], [2.5, 4]]}}
          }
        },
        {
          "data": {"name": "vs"}, "transform": [{"filter": "datum.s === 'c'"}],
          "mark": {"type": "line", "strokeWidth": 2.4, "color": "#e5453a", "strokeDash": [7, 5]},
          "encoding": {
            "x": {"field": "d", "type": "quantitative", "scale": {"domain": [0, 2891], "nice": false, "zero": false}, "axis": null},
            "y": {"field": "v", "type": "quantitative", "scale": {"domain": [4, 7.6], "nice": false, "zero": false}, "axis": {"zindex": 1, "orient": "left", "offset": -775, "values": [4.5, 5, 5.5, 6, 6.5, 7, 7.5], "labels": false, "tickSize": 11, "title": null}}
          }
        },
        {
          "data": {"name": "lead"}, "transform": [{"filter": "datum.p === 'TR'"}],
          "mark": {"type": "rule", "color": "#333333", "strokeWidth": 1.3},
          "encoding": {
            "x": {"field": "d1", "type": "quantitative", "scale": {"domain": [0, 2891], "nice": false, "zero": false}, "axis": null},
            "x2": {"field": "d2"},
            "y": {"field": "y1", "type": "quantitative", "scale": {"domain": [0, 1], "nice": false, "zero": false}, "axis": null},
            "y2": {"field": "y2"}
          }
        },
        {
          "data": {"name": "lab"}, "transform": [{"filter": "datum.p === 'TR'"}],
          "mark": {"type": "text", "font": "Open Sans", "fontSize": 24, "fontWeight": 600, "lineBreak": "\n", "lineHeight": 28, "align": "center", "baseline": "middle"},
          "encoding": {
            "x": {"field": "d", "type": "quantitative", "scale": {"domain": [0, 2891], "nice": false, "zero": false}, "axis": {"zindex": 1, "orient": "bottom", "offset": -478, "values": [500, 1000, 1500, 2000, 2500], "labels": false, "tickSize": 11, "title": null}},
            "y": {"field": "y", "type": "quantitative", "scale": {"domain": [0, 1], "nice": false, "zero": false}, "axis": null},
            "text": {"field": "t"},
            "color": {"field": "k", "type": "nominal", "legend": null, "scale": {"domain": ["bl","bl2","rd","gr","br","pb","pu","ol","cf","gy","st","sp","pvo"], "range": ["#2b78b9","#8d9fbd","#e5403a","#37a04a","#7d6424","#6b5119","#7d2f78","#999a26","#8f5c1f","#8c8c8c","#595959","#f2a477","#a8692d"]}}
          }
        }
      ]
    },
    {
      "width": 775, "height": 478,
      "resolve": {"scale": {"x": "independent", "y": "independent", "color": "independent", "strokeDash": "independent"}, "axis": {"x": "independent", "y": "independent"}},
      "layer": [
        {
          "data": {"name": "ph"}, "transform": [{"filter": "datum.p === 'BL'"}],
          "mark": {"type": "area", "stroke": "white", "strokeWidth": 1.6, "strokeJoin": "round"},
          "encoding": {
            "x": {"field": "d", "type": "quantitative", "scale": {"domain": [0, 2891], "nice": false, "zero": false}, "axis": {"zindex": 1, "orient": "top", "offset": -478, "values": [500, 1000, 1500, 2000, 2500], "labels": false, "tickSize": 11, "title": null}},
            "y": {"field": "hi", "type": "quantitative", "stack": null, "scale": {"domain": [0, 1], "nice": false, "zero": false}, "axis": {"zindex": 1, "orient": "left", "values": [0, 0.2, 0.4, 0.6, 0.8, 1], "labelExpr": "datum.value === 0 ? '0' : format(datum.value, '.1f')", "ticks": false, "tickSize": 0, "domain": false, "labelPadding": 12, "title": null}},
            "y2": {"field": "lo"},
            "color": {"field": "ph", "type": "nominal", "legend": null, "scale": {"domain": ["px","gt","ol","pv","ppv","fp","capv","cf","st","plg","qc"], "range": ["#9fb4d8","#f2a68f","#93cf98","#dcc07e","#c9983f","#b973a6","#fbee6b","#eea45c","#a9a9a9","#dadada","#cdcdcd"]}},
            "detail": {"field": "r"}
          }
        },
        {
          "data": {"name": "vs"}, "transform": [{"filter": "datum.s !== 'c'"}],
          "mark": {"type": "line", "strokeWidth": 2.8, "strokeCap": "butt"},
          "encoding": {
            "x": {"field": "d", "type": "quantitative", "scale": {"domain": [0, 2891], "nice": false, "zero": false}, "axis": {"zindex": 1, "orient": "bottom", "values": [0, 500, 1000, 1500, 2000, 2500], "format": ",d", "ticks": false, "tickSize": 0, "domain": false, "labelPadding": 12, "title": "Depth (km)", "titleX": 774, "titleY": 76, "titleAlign": "center", "titleBaseline": "alphabetic"}},
            "y": {"field": "v", "type": "quantitative", "scale": {"domain": [4, 7.6], "nice": false, "zero": false}, "axis": {"zindex": 1, "orient": "left", "offset": -775, "values": [4.5, 5, 5.5, 6, 6.5, 7, 7.5], "labels": false, "tickSize": 11, "title": null}},
            "color": {"field": "s", "type": "nominal", "legend": null, "scale": {"domain": ["a", "b"], "range": ["#2f9a46", "#2f6d88"]}},
            "strokeDash": {"field": "s", "type": "nominal", "legend": null, "scale": {"domain": ["a", "b"], "range": [[1, 0], [2.5, 4]]}}
          }
        },
        {
          "data": {"name": "vs"}, "transform": [{"filter": "datum.s === 'c'"}],
          "mark": {"type": "line", "strokeWidth": 2.4, "color": "#e5453a", "strokeDash": [7, 5]},
          "encoding": {
            "x": {"field": "d", "type": "quantitative", "scale": {"domain": [0, 2891], "nice": false, "zero": false}, "axis": null},
            "y": {"field": "v", "type": "quantitative", "scale": {"domain": [4, 7.6], "nice": false, "zero": false}, "axis": null}
          }
        },
        {
          "data": {"name": "lead"}, "transform": [{"filter": "datum.p === 'BL'"}],
          "mark": {"type": "rule", "color": "#333333", "strokeWidth": 1.3},
          "encoding": {
            "x": {"field": "d1", "type": "quantitative", "scale": {"domain": [0, 2891], "nice": false, "zero": false}, "axis": null},
            "x2": {"field": "d2"},
            "y": {"field": "y1", "type": "quantitative", "scale": {"domain": [0, 1], "nice": false, "zero": false}, "axis": null},
            "y2": {"field": "y2"}
          }
        },
        {
          "data": {"name": "lab"}, "transform": [{"filter": "datum.p === 'BL'"}],
          "mark": {"type": "text", "font": "Open Sans", "fontSize": 24, "fontWeight": 600, "lineBreak": "\n", "lineHeight": 28, "align": "center", "baseline": "middle"},
          "encoding": {
            "x": {"field": "d", "type": "quantitative", "scale": {"domain": [0, 2891], "nice": false, "zero": false}, "axis": {"zindex": 1, "orient": "bottom", "offset": -478, "values": [500, 1000, 1500, 2000, 2500], "labels": false, "tickSize": 11, "title": null}},
            "y": {"field": "y", "type": "quantitative", "scale": {"domain": [0, 1], "nice": false, "zero": false}, "axis": {"zindex": 1, "orient": "right", "offset": -775, "values": [0.2, 0.4, 0.6, 0.8], "labels": false, "tickSize": 11, "title": null}},
            "text": {"field": "t"},
            "color": {"field": "k", "type": "nominal", "legend": null, "scale": {"domain": ["bl","bl2","rd","gr","br","pb","pu","ol","cf","gy","st","sp","pvo"], "range": ["#2b78b9","#8d9fbd","#e5403a","#37a04a","#7d6424","#6b5119","#7d2f78","#999a26","#8f5c1f","#8c8c8c","#595959","#f2a477","#a8692d"]}}
          }
        }
      ]
    },
    {
      "width": 775, "height": 478,
      "resolve": {"scale": {"x": "independent", "y": "independent", "color": "independent", "strokeDash": "independent"}, "axis": {"x": "independent", "y": "independent"}},
      "layer": [
        {
          "data": {"name": "ph"}, "transform": [{"filter": "datum.p === 'BR'"}],
          "mark": {"type": "area", "stroke": "white", "strokeWidth": 1.6, "strokeJoin": "round"},
          "encoding": {
            "x": {"field": "d", "type": "quantitative", "scale": {"domain": [0, 2891], "nice": false, "zero": false}, "axis": {"zindex": 1, "orient": "top", "offset": -478, "values": [500, 1000, 1500, 2000, 2500], "labels": false, "tickSize": 11, "title": null}},
            "y": {"field": "hi", "type": "quantitative", "stack": null, "scale": {"domain": [0, 1], "nice": false, "zero": false}, "axis": {"zindex": 1, "orient": "right", "offset": -775, "values": [0.2, 0.4, 0.6, 0.8], "labels": false, "tickSize": 11, "title": null}},
            "y2": {"field": "lo"},
            "color": {"field": "ph", "type": "nominal", "legend": null, "scale": {"domain": ["px","gt","ol","pv","ppv","fp","capv","cf","st","plg","qc"], "range": ["#9fb4d8","#f2a68f","#93cf98","#dcc07e","#c9983f","#b973a6","#fbee6b","#eea45c","#a9a9a9","#dadada","#cdcdcd"]}},
            "detail": {"field": "r"}
          }
        },
        {
          "data": {"name": "vsm"}, "transform": [{"filter": "datum.s === 'g'"}],
          "mark": {"type": "line", "strokeWidth": 2.4, "color": "#6e6e6e"},
          "encoding": {
            "x": {"field": "d", "type": "quantitative", "scale": {"domain": [0, 2891], "nice": false, "zero": false}, "axis": {"zindex": 1, "orient": "bottom", "values": [0, 500, 1000, 1500, 2000, 2500], "format": ",d", "ticks": false, "tickSize": 0, "domain": false, "labelPadding": 12, "title": null}},
            "y": {"field": "v", "type": "quantitative", "scale": {"domain": [4, 7.6], "nice": false, "zero": false}, "axis": {"zindex": 1, "orient": "right", "values": [4, 4.5, 5, 5.5, 6, 6.5, 7, 7.5], "format": ".1f", "ticks": false, "tickSize": 0, "domain": false, "labelPadding": 10, "title": null}}
          }
        },
        {
          "data": {"name": "vsm"}, "transform": [{"filter": "datum.s === 'h'"}],
          "mark": {"type": "line", "strokeWidth": 2.8, "color": "#3b5f8c", "strokeDash": [2.5, 4], "strokeCap": "butt"},
          "encoding": {
            "x": {"field": "d", "type": "quantitative", "scale": {"domain": [0, 2891], "nice": false, "zero": false}, "axis": null},
            "y": {"field": "v", "type": "quantitative", "scale": {"domain": [4, 7.6], "nice": false, "zero": false}, "axis": {"zindex": 1, "orient": "left", "offset": -775, "values": [4.5, 5, 5.5, 6, 6.5, 7, 7.5], "labels": false, "tickSize": 11, "title": null}}
          }
        },
        {
          "data": {"name": "lead"}, "transform": [{"filter": "datum.p === 'BR'"}],
          "mark": {"type": "rule", "color": "#333333", "strokeWidth": 1.3},
          "encoding": {
            "x": {"field": "d1", "type": "quantitative", "scale": {"domain": [0, 2891], "nice": false, "zero": false}, "axis": null},
            "x2": {"field": "d2"},
            "y": {"field": "y1", "type": "quantitative", "scale": {"domain": [0, 1], "nice": false, "zero": false}, "axis": null},
            "y2": {"field": "y2"}
          }
        },
        {
          "data": {"name": "lab"}, "transform": [{"filter": "datum.p === 'BR'"}],
          "mark": {"type": "text", "font": "Open Sans", "fontSize": 24, "fontWeight": 600, "lineBreak": "\n", "lineHeight": 28, "align": "center", "baseline": "middle"},
          "encoding": {
            "x": {"field": "d", "type": "quantitative", "scale": {"domain": [0, 2891], "nice": false, "zero": false}, "axis": {"zindex": 1, "orient": "bottom", "offset": -478, "values": [500, 1000, 1500, 2000, 2500], "labels": false, "tickSize": 11, "title": null}},
            "y": {"field": "y", "type": "quantitative", "scale": {"domain": [0, 1], "nice": false, "zero": false}, "axis": null},
            "text": {"field": "t"},
            "color": {"field": "k", "type": "nominal", "legend": null, "scale": {"domain": ["bl","bl2","rd","gr","br","pb","pu","ol","cf","gy","st","sp","pvo"], "range": ["#2b78b9","#8d9fbd","#e5403a","#37a04a","#7d6424","#6b5119","#7d2f78","#999a26","#8f5c1f","#8c8c8c","#595959","#f2a477","#a8692d"]}}
          }
        },
        {
          "resolve": {"scale": {"x": "independent", "y": "independent", "color": "independent"}, "axis": {"x": "independent", "y": "independent"}},
          "layer": [
            {
              "data": {"name": "ins"},
              "mark": {"type": "area", "stroke": "white", "strokeWidth": 1.4, "strokeJoin": "round"},
              "encoding": {
                "x": {"field": "c", "type": "quantitative", "scale": {"domain": [0, 1], "range": [402, 668], "nice": false, "zero": false}, "axis": {"zindex": 1, "orient": "bottom", "offset": -158, "values": [0, 0.2, 0.4, 0.6, 0.8, 1], "labelExpr": "datum.value === 0 ? '0' : format(datum.value, '.1f')", "ticks": false, "tickSize": 0, "labelPadding": 6, "labelFontSize": 20, "title": "Composition (basalt fraction)", "titleFontSize": 20, "titleY": 46, "titleBaseline": "alphabetic"}},
                "y": {"field": "hi", "type": "quantitative", "stack": null, "scale": {"domain": [0, 1], "range": [320, 151], "nice": false, "zero": false}, "axis": {"zindex": 1, "orient": "left", "offset": -402, "values": [0, 0.2, 0.4, 0.6, 0.8, 1], "labelExpr": "datum.value === 0 ? '0' : format(datum.value, '.1f')", "tickSize": 5, "labelPadding": 2, "labelFontSize": 20, "title": null}},
                "y2": {"field": "lo"},
                "color": {"field": "ph", "type": "nominal", "legend": null, "scale": {"domain": ["px","gt","ol","pv","ppv","fp","capv","cf","st","plg","qc"], "range": ["#9fb4d8","#f2a68f","#93cf98","#dcc07e","#c9983f","#b973a6","#fbee6b","#eea45c","#a9a9a9","#dadada","#cdcdcd"]}},
                "detail": {"field": "r"}
              }
            },
            {
              "data": {"name": "insv"},
              "mark": {"type": "line", "strokeWidth": 2.6},
              "encoding": {
                "x": {"field": "c", "type": "quantitative", "scale": {"domain": [0, 1], "range": [402, 668], "nice": false, "zero": false}, "axis": {"zindex": 1, "orient": "bottom", "offset": -327, "values": [0.2, 0.4, 0.6, 0.8], "labels": false, "tickSize": 7, "title": "600 km", "titleFontSize": 22, "titleY": -6, "titleBaseline": "alphabetic"}},
                "y": {"field": "v", "type": "quantitative", "scale": {"domain": [5, 5.5], "range": [320, 151], "nice": false, "zero": false}, "axis": {"zindex": 1, "orient": "right", "offset": -107, "values": [5, 5.1, 5.2, 5.3, 5.4, 5.5], "format": ".1f", "tickSize": 5, "labelPadding": 2, "labelFontSize": 20, "title": null}},
                "color": {"field": "s", "type": "nominal", "legend": null, "scale": {"domain": ["g", "t"], "range": ["#6a6a6a", "#2d9bb3"]}}
              }
            },
            {
              "data": {"name": "insld"},
              "mark": {"type": "rule", "color": "#333333", "strokeWidth": 1.2},
              "encoding": {
                "x": {"field": "c1", "type": "quantitative", "scale": {"domain": [0, 1], "range": [402, 668], "nice": false, "zero": false}, "axis": null},
                "x2": {"field": "c2"},
                "y": {"field": "y1", "type": "quantitative", "scale": {"domain": [0, 1], "range": [320, 151], "nice": false, "zero": false}, "axis": null},
                "y2": {"field": "y2"}
              }
            },
            {
              "data": {"name": "insl"},
              "mark": {"type": "text", "font": "Open Sans", "fontSize": 24, "fontWeight": 600, "align": "center", "baseline": "middle"},
              "encoding": {
                "x": {"field": "c", "type": "quantitative", "scale": {"domain": [0, 1], "range": [402, 668], "nice": false, "zero": false}, "axis": null},
                "y": {"field": "y", "type": "quantitative", "scale": {"domain": [0, 1], "range": [320, 151], "nice": false, "zero": false}, "axis": null},
                "text": {"field": "t"},
                "color": {"field": "k", "type": "nominal", "legend": null, "scale": {"domain": ["bl","bl2","rd","gr","br","pb","pu","ol","cf","gy","st","sp","pvo"], "range": ["#2b78b9","#8d9fbd","#e5403a","#37a04a","#7d6424","#6b5119","#7d2f78","#999a26","#8f5c1f","#8c8c8c","#595959","#f2a477","#a8692d"]}}
              }
            }
          ]
        }
      ]
    }
  ]
}
